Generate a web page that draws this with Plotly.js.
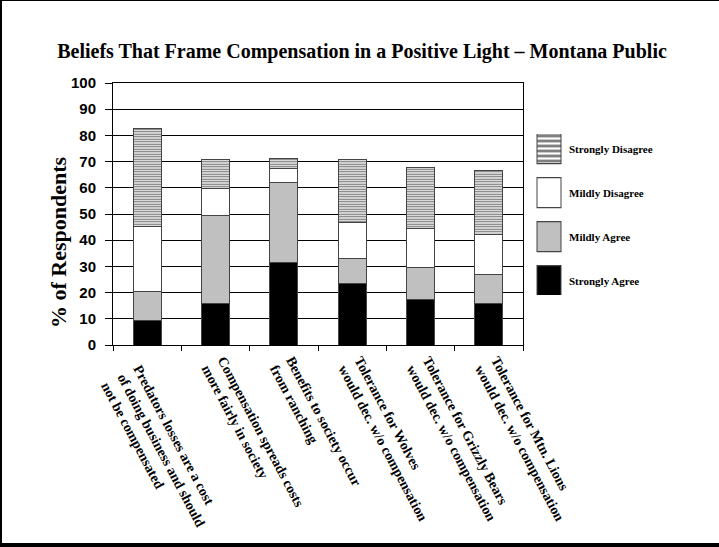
<!DOCTYPE html>
<html>
<head>
<meta charset="utf-8">
<script src="https://cdn.plot.ly/plotly-3.0.1.min.js"></script>
<style>
  html, body { margin: 0; padding: 0; background: #fff; }
  #wrap { position: relative; width: 719px; height: 547px; overflow: hidden; }
  #chart { position: absolute; left: 0; top: 0; width: 719px; height: 547px; }
  #frame { position: absolute; left: 0; top: 0; width: 717px; height: 542px;
           border-left: 2px solid #000; border-top: 1px solid #000; border-bottom: 4px solid #000;
           pointer-events: none; }
</style>
</head>
<body>
<div id="wrap"><div id="chart"></div><div id="frame"></div></div>
<script>
const categories = [
  "<br><br><br>Predators losses are a cost<br>of doing business and should<br>not be compensated",
  "Compensation spreads costs<br>more fairly in society",
  "Benefits to society occur<br>from ranching",
  "Tolerance for Wolves<br>would dec. w/o compensation",
  "Tolerance for Grizzly Bears<br>would dec. w/o compensation",
  "Tolerance for Mtn. Lions<br>would dec. w/o compensation"
];
const stronglyAgree    = [9.3, 15.7, 31.6, 23.3, 17.2, 15.9];
const mildlyAgree      = [11.1, 33.9, 30.4, 9.8, 12.3, 11.1];
const mildlyDisagree   = [24.8, 10.3, 5.3, 13.8, 14.8, 15.3];
const stronglyDisagree = [37.6, 10.8, 3.7, 23.8, 23.6, 24.3];
const yTicks = [0, 10, 20, 30, 40, 50, 60, 70, 80, 90, 100];

const serif = "Liberation Serif, Times New Roman, serif";
const sans = "Liberation Sans, Arial, sans-serif";
const outline = {color: "#444", width: 1};

const traces = [
  {name: "Strongly Agree", y: stronglyAgree, marker: {color: "#000000", line: outline}, legendgroup: "a", legendrank: 4},
  {name: "Mildly Agree", y: mildlyAgree, marker: {color: "#c0c0c0", line: outline}, legendgroup: "b", legendrank: 3},
  {name: "Mildly Disagree", y: mildlyDisagree, marker: {color: "#ffffff", line: outline}, legendgroup: "c", legendrank: 2},
  {name: "Strongly Disagree", y: stronglyDisagree,
   marker: {color: "#ffffff", line: outline,
            pattern: {shape: "-", fgcolor: "#6e6e6e", bgcolor: "#ffffff", size: 2.5, solidity: 0.5}},
   legendgroup: "d", legendrank: 1}
].map(t => Object.assign({type: "bar", x: categories, hoverinfo: "y+name"}, t));

const layout = {
  width: 719, height: 547,
  paper_bgcolor: "#fff", plot_bgcolor: "#fff",
  margin: {l: 113, r: 196, t: 83, b: 202},
  barmode: "stack",
  bargap: 0.59,
  title: {
    text: "Beliefs That Frame Compensation in a Positive Light – Montana Public",
    font: {family: serif, size: 20, color: "#000", weight: "bold"},
    x: 362 / 719, xanchor: "center", y: 1 - 51 / 547, yanchor: "middle"
  },
  xaxis: {
    type: "category",
    showline: true, linecolor: "#000", linewidth: 1, mirror: true,
    ticks: "outside", tickson: "boundaries", ticklen: 5, tickcolor: "#000",
    tickangle: 62,
    ticklabelstandoff: 5,
    tickfont: {family: serif, size: 14, color: "#000", weight: "bold"},
    showgrid: false
  },
  yaxis: {
    range: [0, 100], tickvals: yTicks, ticktext: yTicks.map(String),
    showline: true, linecolor: "#000", linewidth: 1, mirror: true,
    ticks: "outside", ticklen: 7, tickcolor: "#000",
    ticklabelstandoff: 6,
    tickfont: {family: sans, size: 15, color: "#000", weight: "bold"},
    showgrid: true, gridcolor: "#000", gridwidth: 1,
    zeroline: false
  },
  annotations: [{
    text: "% of Respondents", textangle: -90,
    xref: "paper", yref: "paper", x: (58 - 113) / 410, y: (345 - 242) / 262,
    xanchor: "center", yanchor: "middle", showarrow: false,
    font: {family: serif, size: 22, color: "#000", weight: "bold"}
  }],
  legend: {
    x: (529 - 113) / 410, xanchor: "left", y: (345 - 134) / 262, yanchor: "top",
    traceorder: "grouped", tracegroupgap: 25,
    font: {family: serif, size: 11, color: "#000", weight: "bold"},
    bgcolor: "rgba(0,0,0,0)"
  },
  showlegend: true
};

Plotly.newPlot("chart", traces, layout, {staticPlot: true, displayModeBar: false}).then(gd => {
  gd.querySelectorAll(".legend .legendpoints path").forEach(p => {
    const t = p.getAttribute("transform") || "";
    p.setAttribute("transform", t + " scale(2,2.5)");
    p.style.strokeWidth = "0.5px";
  });
});
</script>
</body>
</html>
